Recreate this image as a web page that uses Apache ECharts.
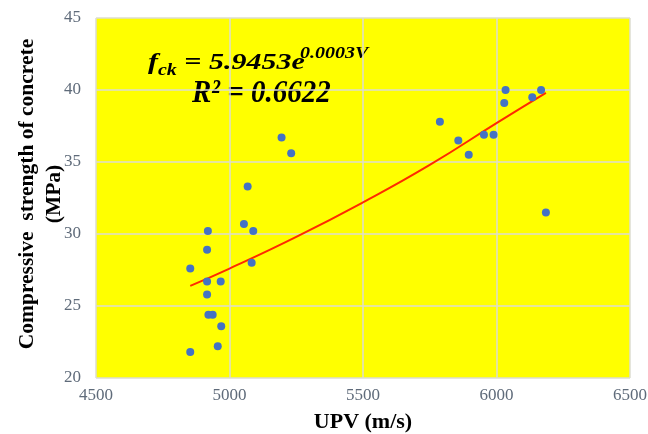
<!DOCTYPE html>
<html>
<head>
<meta charset="utf-8">
<script src="https://cdn.jsdelivr.net/npm/echarts@6/dist/echarts.min.js"></script>
<style>
  html, body { margin: 0; padding: 0; background: #fff; }
  #chart { width: 648px; height: 434px; }
</style>
</head>
<body>
<div id="chart"></div>
<script>
// measured points: UPV (m/s), strength (MPa)
const upv = [
  5068, 5054, 5089, 4919, 4916, 5083, 4853, 4916, 4967, 4916,
  4921, 4937, 4969, 4956, 4853, 5195, 5231,
  5788, 6034, 6029, 6134, 6167, 5857, 5896, 5953, 5989, 6185
]
const strength = [
  33.3, 30.7, 30.2, 30.2, 28.9, 28.0, 27.6, 26.7, 26.7, 25.8,
  24.4, 24.4, 23.6, 22.2, 21.8, 36.7, 35.6,
  37.8, 40.0, 39.1, 39.5, 40.0, 36.5, 35.5, 36.9, 36.9, 31.5
]
// trend line
const trendX = [4853, 5000, 5250, 5500, 5750, 6000, 6185]
const trendY = [26.4, 27.6, 29.8, 32.2, 34.8, 37.7, 39.8]

const serif = 'Liberation Serif'
const tickColor = '#5f6b7a'
const eq = { fontFamily: serif, fontStyle: 'italic', fontWeight: 'bold', fill: '#000' }

const chart = echarts.init(document.getElementById('chart'))
chart.setOption({
  animation: false,
  grid: {
    left: 96, right: 18, top: 18, bottom: 56,
    outerBoundsMode: 'none',
    containLabel: false,
    show: true,
    backgroundColor: '#ffff00',
    borderWidth: 0
  },
  xAxis: {
    type: 'value',
    min: 4500, max: 6500, interval: 500,
    name: 'UPV (m/s)',
    nameLocation: 'middle',
    nameGap: 33,
    nameMoveOverlap: false,
    nameTextStyle: { fontFamily: serif, fontWeight: 'bold', fontSize: 22, color: '#000' },
    axisLine: { show: false },
    axisTick: { show: false },
    axisLabel: { fontFamily: serif, fontSize: 17, color: tickColor, margin: 9, formatter: v => String(v) },
    splitLine: { show: true, lineStyle: { color: '#dcdcd0', width: 1.5 } }
  },
  yAxis: {
    type: 'value',
    min: 20, max: 45, interval: 5,
    name: 'Compressive  strength of concrete\n(MPa)',
    nameLocation: 'middle',
    nameGap: 28,
    nameMoveOverlap: false,
    nameTextStyle: { fontFamily: serif, fontWeight: 'bold', fontSize: 21.5, color: '#000', lineHeight: 27, padding: [0, 0, 0, 8] },
    axisLine: { show: false },
    axisTick: { show: false },
    axisLabel: { fontFamily: serif, fontSize: 17, color: tickColor, margin: 15 },
    splitLine: { show: true, lineStyle: { color: '#dcdcd0', width: 1.5 } }
  },
  series: [
    {
      type: 'scatter',
      data: upv.map((v, i) => [v, strength[i]]),
      symbolSize: 8,
      itemStyle: { color: '#4472c4', opacity: 1 },
      z: 3
    },
    {
      type: 'line',
      data: trendX.map((v, i) => [v, trendY[i]]),
      smooth: true,
      showSymbol: false,
      lineStyle: { color: '#ff2a00', width: 2 },
      z: 2
    }
  ],
  graphic: [
    {
      type: 'text',
      x: 148, y: 51,
      scaleY: 0.8,
      style: {
        text: '{f|f}{sub|ck}{m| = 5.9453e}',
        rich: {
          f: Object.assign({ fontSize: 30, verticalAlign: 'bottom' }, eq),
          sub: Object.assign({ fontSize: 20, verticalAlign: 'bottom', padding: [0, 0, -5, 0] }, eq),
          m: Object.assign({ fontSize: 30, verticalAlign: 'bottom' }, eq)
        }
      }
    },
    {
      type: 'text',
      x: 300, y: 46,
      scaleY: 0.8,
      style: Object.assign({ text: '0.0003V', fontSize: 20 }, eq)
    },
    {
      type: 'text',
      x: 192, y: 78,
      scaleY: 1.1,
      style: Object.assign({ text: 'R² = 0.6622', fontSize: 29 }, eq)
    }
  ]
})
</script>
</body>
</html>
